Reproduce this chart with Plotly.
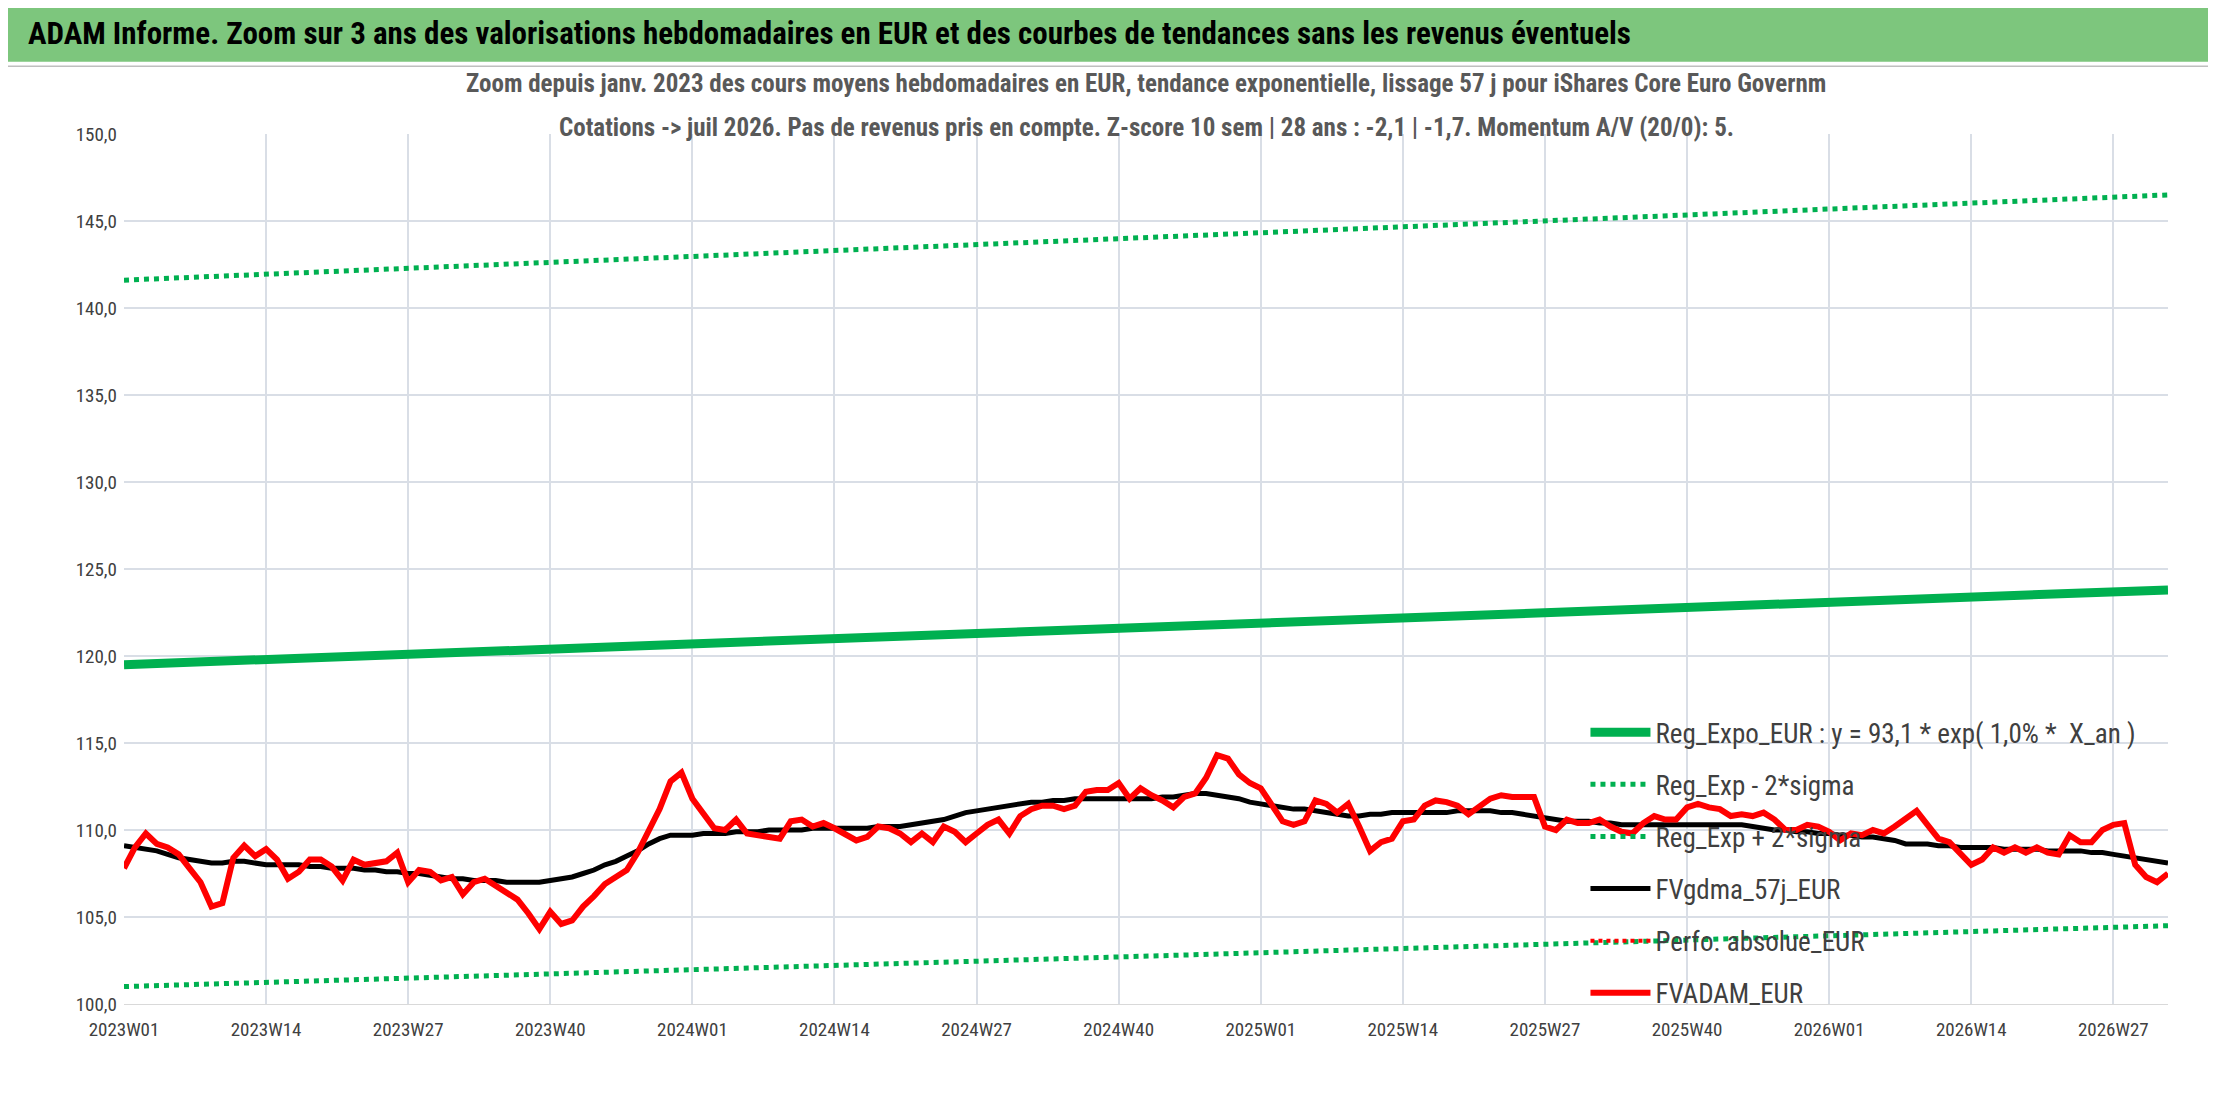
import plotly.graph_objects as go

# weekly labels 2023W01 .. 2026W32
WEEKS = []
for year, n in [(2023, 52), (2024, 52), (2025, 52), (2026, 32)]:
    WEEKS += [f"{year}W{w:02d}" for w in range(1, n + 1)]

FVADAM = [
    107.8, 109.0, 109.8, 109.2, 109.0, 108.6, 107.8, 107.0, 105.6, 105.8, 108.4, 109.1, 108.5,
    108.9, 108.3, 107.2, 107.6, 108.3, 108.3, 107.9, 107.1, 108.3, 108.0, 108.1, 108.2, 108.7,
    107.0, 107.7, 107.6, 107.1, 107.3, 106.3, 107.0, 107.2, 106.8, 106.4, 106.0, 105.2, 104.3,
    105.3, 104.6, 104.8, 105.6, 106.2, 106.9, 107.3, 107.7, 108.7, 110.0, 111.2, 112.8, 113.3,
    111.8, 110.9, 110.1, 110.0, 110.6, 109.8, 109.7, 109.6, 109.5, 110.5, 110.6, 110.2, 110.4,
    110.1, 109.7, 109.4, 109.6, 110.2, 110.1, 109.8, 109.3, 109.8, 109.3, 110.2, 109.9, 109.3,
    109.8, 110.3, 110.6, 109.8, 110.8, 111.2, 111.4, 111.4, 111.2, 111.4, 112.2, 112.3, 112.3,
    112.7, 111.8, 112.4, 112.0, 111.7, 111.3, 111.9, 112.1, 113.0, 114.3, 114.1, 113.2, 112.7,
    112.4, 111.4, 110.5, 110.3, 110.5, 111.7, 111.5, 111.0, 111.5, 110.2, 108.8, 109.3, 109.5,
    110.5, 110.6, 111.4, 111.7, 111.6, 111.4, 110.9, 111.3, 111.8, 112.0, 111.9, 111.9, 111.9,
    110.2, 110.0, 110.6, 110.4, 110.4, 110.6, 110.2, 109.9, 109.8, 110.4, 110.8, 110.6, 110.6,
    111.3, 111.5, 111.3, 111.2, 110.8, 110.9, 110.8, 111.0, 110.6, 110.0, 110.0, 110.3, 110.2,
    109.9, 109.4, 109.8, 109.7, 110.0, 109.8, 110.2, 110.6, 111.1, 110.3, 109.5, 109.3, 108.7,
    108.0, 108.3, 109.0, 108.7, 109.0, 108.7, 109.0, 108.7, 108.6, 109.7, 109.3, 109.3, 110.0,
    110.3, 110.4, 108.0, 107.3, 107.0, 107.5,
]

FVGDMA = [
    109.1, 109.0, 108.9, 108.8, 108.6, 108.4, 108.3, 108.2, 108.1, 108.1, 108.2, 108.2, 108.1,
    108.0, 108.0, 108.0, 108.0, 107.9, 107.9, 107.8, 107.8, 107.8, 107.7, 107.7, 107.6, 107.6,
    107.5, 107.5, 107.4, 107.3, 107.2, 107.2, 107.1, 107.1, 107.1, 107.0, 107.0, 107.0, 107.0,
    107.1, 107.2, 107.3, 107.5, 107.7, 108.0, 108.2, 108.5, 108.8, 109.2, 109.5, 109.7, 109.7,
    109.7, 109.8, 109.8, 109.8, 109.9, 109.9, 109.9, 110.0, 110.0, 110.0, 110.0, 110.1, 110.1,
    110.1, 110.1, 110.1, 110.1, 110.2, 110.2, 110.2, 110.3, 110.4, 110.5, 110.6, 110.8, 111.0,
    111.1, 111.2, 111.3, 111.4, 111.5, 111.6, 111.6, 111.7, 111.7, 111.8, 111.8, 111.8, 111.8,
    111.8, 111.8, 111.8, 111.8, 111.9, 111.9, 112.0, 112.1, 112.1, 112.0, 111.9, 111.8, 111.6,
    111.5, 111.4, 111.3, 111.2, 111.2, 111.1, 111.0, 110.9, 110.8, 110.8, 110.9, 110.9, 111.0,
    111.0, 111.0, 111.0, 111.0, 111.0, 111.1, 111.1, 111.1, 111.1, 111.0, 111.0, 110.9, 110.8,
    110.7, 110.6, 110.5, 110.5, 110.5, 110.4, 110.4, 110.3, 110.3, 110.3, 110.3, 110.3, 110.3,
    110.3, 110.3, 110.3, 110.3, 110.3, 110.3, 110.2, 110.1, 110.0, 110.0, 109.9, 109.9, 109.8,
    109.8, 109.7, 109.7, 109.6, 109.6, 109.5, 109.4, 109.2, 109.2, 109.2, 109.1, 109.1, 109.0,
    109.0, 109.0, 109.0, 108.9, 108.9, 108.9, 108.9, 108.8, 108.8, 108.8, 108.8, 108.7, 108.7,
    108.6, 108.5, 108.4, 108.3, 108.2, 108.1,
]

# trend lines: start / end values
TREND_X = ["2023W01", "2026W32"]
REG_EXPO = [119.5, 123.8]
REG_MINUS = [101.0, 104.5]
REG_PLUS = [141.6, 146.5]

TICKS = ["2023W01", "2023W14", "2023W27", "2023W40", "2024W01", "2024W14", "2024W27", "2024W40",
         "2025W01", "2025W14", "2025W27", "2025W40", "2026W01", "2026W14", "2026W27"]

FONT = "Liberation Sans Narrow, Roboto Condensed, Arial Narrow, sans-serif"
GREEN = "#00B050"

fig = go.Figure()
fig.add_trace(go.Scatter(x=TREND_X, y=REG_EXPO, mode='lines', line=dict(color=GREEN, width=9),
                         name='Reg_Expo_EUR : y = 93,1 * exp( 1,0% *  X_an )', legendgroup='a'))
fig.add_trace(go.Scatter(x=TREND_X, y=REG_MINUS, mode='lines', line=dict(color=GREEN, width=5, dash='dot'),
                         name='Reg_Exp - 2*sigma', legendgroup='b'))
fig.add_trace(go.Scatter(x=TREND_X, y=REG_PLUS, mode='lines', line=dict(color=GREEN, width=5, dash='dot'),
                         name='Reg_Exp + 2*sigma', legendgroup='c'))
fig.add_trace(go.Scatter(x=WEEKS, y=FVGDMA, mode='lines', line=dict(color='black', width=5),
                         name='FVgdma_57j_EUR', legendgroup='d'))
fig.add_trace(go.Scatter(x=[None], y=[None], mode='lines', line=dict(color='red', width=4, dash='dot'),
                         name='Perfo. absolue_EUR', legendgroup='e'))
fig.add_trace(go.Scatter(x=WEEKS, y=FVADAM, mode='lines', line=dict(color='red', width=6),
                         name='FVADAM_EUR', legendgroup='f'))

fig.update_layout(
    width=2216, height=1102,
    margin=dict(l=116, r=56, t=126, b=106),
    paper_bgcolor='white', plot_bgcolor='white',
    separators=', ',
    font=dict(family=FONT, color='#404040'),
    showlegend=True,
    legend=dict(x=0.715, y=0.34, xanchor='left', yanchor='top', bgcolor='rgba(0,0,0,0)',
                font=dict(size=27, color='#404040'), tracegroupgap=14, itemwidth=60),
    shapes=[
        dict(type='rect', xref='paper', yref='paper', x0=-0.06, x1=1.03, y0=-0.115, y1=1.078,
             line=dict(color='#BFBFBF', width=1.5), fillcolor='rgba(0,0,0,0)'),
        dict(type='rect', xref='paper', yref='paper', x0=-0.06, x1=1.03, y0=1.083, y1=1.147,
             line=dict(width=0), fillcolor='#7DC67D'),
    ],
    annotations=[
        dict(text='<b>ADAM Informe. Zoom sur 3 ans des valorisations hebdomadaires en EUR et des courbes de tendances sans les revenus éventuels</b>',
             xref='paper', yref='paper', x=-0.048, y=1.115, xanchor='left', yanchor='middle',
             showarrow=False, font=dict(size=31, color='black')),
        dict(text='<b>Zoom depuis janv. 2023 des cours moyens hebdomadaires en EUR, tendance exponentielle, lissage 57 j pour iShares Core Euro Governm</b>',
             xref='paper', yref='paper', x=0.5, y=1.058, xanchor='center', yanchor='middle',
             showarrow=False, font=dict(size=25, color='#595959')),
        dict(text='<b>Cotations -> juil 2026. Pas de revenus pris en compte. Z-score 10 sem | 28 ans : -2,1 | -1,7. Momentum A/V (20/0): 5.</b>',
             xref='paper', yref='paper', x=0.5, y=1.008, xanchor='center', yanchor='middle',
             showarrow=False, font=dict(size=25, color='#595959')),
    ],
)
fig.update_xaxes(type='category', categoryorder='array', categoryarray=WEEKS,
                 range=[0, len(WEEKS) - 1], tickmode='array', tickvals=TICKS, ticktext=TICKS,
                 showgrid=True, gridcolor='#D9DEE6', gridwidth=1.5, tickfont=dict(size=19, color='#404040'),
                 showline=True, linecolor='#D9D9D9', zeroline=False, ticks='', ticklabelstandoff=8)
fig.update_yaxes(range=[100, 150], dtick=5, tickformat='.1f', showgrid=True, gridcolor='#D9DEE6',
                 gridwidth=1.5, tickfont=dict(size=19, color='#404040'), zeroline=False, ticks='',
                 ticklabelstandoff=6)

fig.write_html("out.html")
